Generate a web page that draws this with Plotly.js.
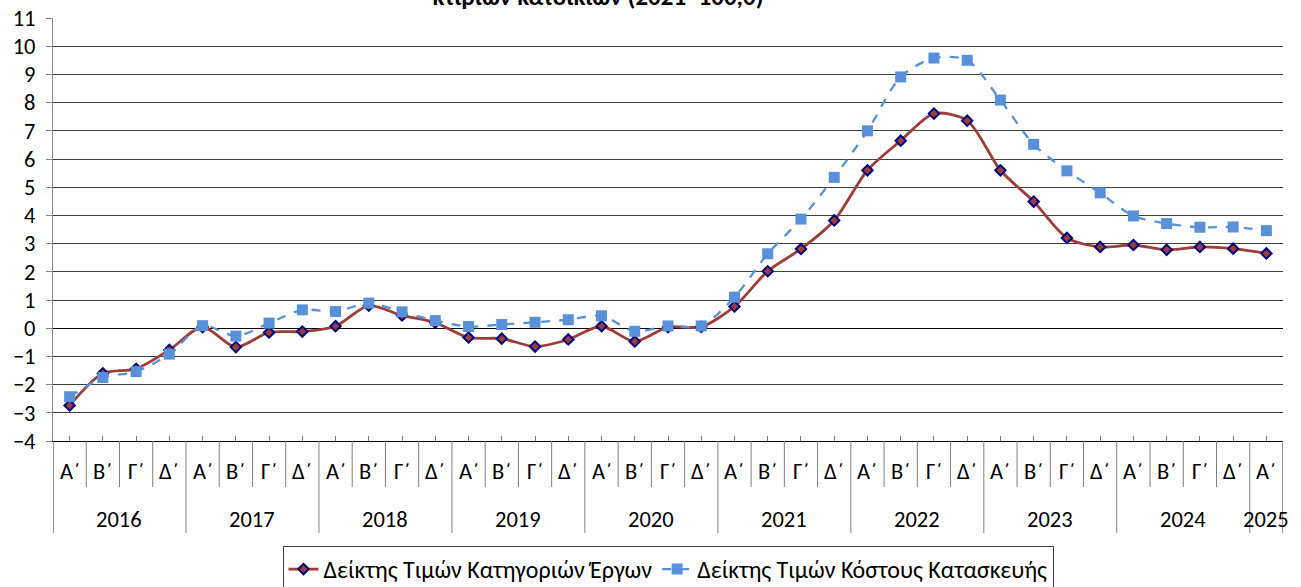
<!DOCTYPE html>
<html>
<head>
<meta charset="utf-8">
<script src="https://cdn.plot.ly/plotly-3.0.1.min.js"></script>
<style>
  html, body { margin: 0; padding: 0; background: #fff; }
  #chart { width: 1301px; height: 587px; }
</style>
</head>
<body>
<div id="chart"></div>
<script>
// ---- Data ----
var years = ['2016', '2017', '2018', '2019', '2020', '2021', '2022', '2023', '2024', '2025'];
var quartersPerYear = [4, 4, 4, 4, 4, 4, 4, 4, 4, 1];
var quarterLabels = ['Α΄', 'Β΄', 'Γ΄', 'Δ΄'];

var seriesNames = ['Δείκτης Τιμών Κατηγοριών Έργων', 'Δείκτης Τιμών Κόστους Κατασκευής'];

var projectCategoryIndex = [
  -2.74, -1.60, -1.44, -0.77,
   0.04, -0.67, -0.15, -0.12,
   0.07,  0.80,  0.45,  0.20,
  -0.33, -0.37, -0.65, -0.40,
   0.07, -0.47,  0.04,  0.05,
   0.77,  2.02,  2.81,  3.82,
   5.60,  6.65,  7.61,  7.36,
   5.60,  4.49,  3.20,  2.88,
   2.95,  2.78,  2.88,  2.82,
   2.65
];
var constructionCostIndex = [
  -2.43, -1.75, -1.54, -0.92,
   0.09, -0.28,  0.18,  0.65,
   0.59,  0.89,  0.58,  0.27,
   0.06,  0.13,  0.21,  0.30,
   0.44, -0.11,  0.08,  0.08,
   1.10,  2.64,  3.87,  5.35,
   7.00,  8.91,  9.58,  9.50,
   8.09,  6.52,  5.58,  4.80,
   3.98,  3.71,  3.58,  3.59,
   3.46
];
var titleText = 'κτιρίων κατοικιών (2021=100,0)';

// ---- Build category positions ----
var periodQuarter = [];
years.forEach(function (y, yi) {
  for (var q = 0; q < quartersPerYear[yi]; q++) periodQuarter.push(quarterLabels[q]);
});
var xIdx = periodQuarter.map(function (_, i) { return i; });
var n = xIdx.length;

var FONT = 'Carlito, Calibri, "Liberation Sans", Arial, sans-serif';
var FS = 22.5;
var plotH = 587 - 18 - 146;

var traces = [
  {
    x: xIdx, y: projectCategoryIndex, name: seriesNames[0],
    type: 'scatter', mode: 'lines+markers',
    line: { color: '#9E3D38', width: 2.8, shape: 'spline', smoothing: 0.8 },
    marker: { symbol: 'diamond', size: 8, color: '#9E3D38', line: { color: '#000080', width: 2 } }
  },
  {
    x: xIdx, y: constructionCostIndex, name: seriesNames[1],
    type: 'scatter', mode: 'lines+markers',
    line: { color: '#5891DA', width: 2.3, dash: 'dash', shape: 'spline', smoothing: 0.8 },
    marker: { symbol: 'square', size: 11, color: '#5891DA' }
  }
];

// ---- Axis label annotations & divider shapes ----
var annotations = [];
var shapes = [];
xIdx.forEach(function (i) {
  annotations.push({
    x: i, y: 0, xref: 'x', yref: 'paper', yanchor: 'middle', xanchor: 'center',
    yshift: -30, text: periodQuarter[i], showarrow: false,
    font: { family: FONT, size: FS, color: '#000' }
  });
});
var start = 0;
years.forEach(function (y, yi) {
  var cnt = quartersPerYear[yi];
  annotations.push({
    x: start + (cnt - 1) / 2, y: 0, xref: 'x', yref: 'paper', yanchor: 'middle', xanchor: 'center',
    yshift: -78, text: y, showarrow: false,
    font: { family: FONT, size: FS, color: '#000' }
  });
  start += cnt;
});
var yearBounds = {};
var acc = 0;
yearBounds[0] = true;
quartersPerYear.forEach(function (c) { acc += c; yearBounds[acc] = true; });
for (var b = 0; b <= n; b++) {
  var isYear = !!yearBounds[b];
  var depth = isYear ? 92 : 46;
  var xb = b - 0.5;
  if (b === 0) xb = -0.49;
  if (b === n) xb = n - 0.51;
  shapes.push({
    type: 'line', xref: 'x', yref: 'paper', x0: xb, x1: xb,
    y0: 0, y1: -depth / plotH, line: { color: '#7f7f7f', width: 1 }
  });
}

var layout = {
  width: 1301, height: 587,
  paper_bgcolor: '#fff', plot_bgcolor: '#fff',
  margin: { l: 53, r: 18, t: 18, b: 146, pad: 0 },
  font: { family: FONT, size: FS, color: '#000' },
  title: {
    text: '<b>' + titleText + '</b>',
    x: 598 / 1301, xanchor: 'center', xref: 'container',
    y: 1 - 5 / 587, yanchor: 'bottom', yref: 'container',
    font: { family: FONT, size: 25, color: '#000' }
  },
  showlegend: true,
  legend: {
    orientation: 'h', x: 0.5, xanchor: 'center', xref: 'paper',
    y: 1 - 546 / 587, yanchor: 'top', yref: 'container',
    bordercolor: '#404040', borderwidth: 1, bgcolor: '#fff',
    font: { family: FONT, size: 24, color: '#000' },
    itemwidth: 30
  },
  xaxis: {
    type: 'linear', range: [-0.5, n - 0.5], fixedrange: true,
    showgrid: false, zeroline: false,
    showline: true, linecolor: '#000', linewidth: 1,
    tickvals: xIdx,
    ticks: 'inside', ticklen: 5, tickcolor: '#7f7f7f', tickwidth: 1,
    showticklabels: false
  },
  yaxis: {
    range: [-4, 11], dtick: 1, tick0: 0, fixedrange: true,
    showgrid: true, gridcolor: '#3f3f3f', gridwidth: 1,
    zeroline: true, zerolinecolor: '#000', zerolinewidth: 1,
    showline: true, linecolor: '#868686', linewidth: 1,
    ticks: 'outside', ticklen: 6, tickcolor: '#868686',
    tickfont: { family: FONT, size: FS, color: '#000' },
    ticklabelstandoff: 6
  },
  annotations: annotations,
  shapes: shapes
};

Plotly.newPlot('chart', traces, layout, { displayModeBar: false, staticPlot: true });
</script>
</body>
</html>
